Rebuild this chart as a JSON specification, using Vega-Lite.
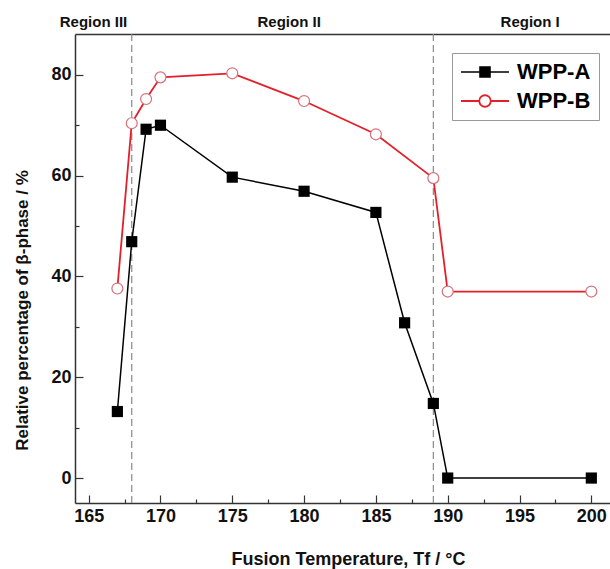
{
  "$schema": "https://vega.github.io/schema/vega-lite/v6.json",
  "width": 535,
  "height": 469,
  "autosize": {"type": "none"},
  "padding": {"left": 75, "top": 34, "right": 0, "bottom": 66},
  "background": "white",
  "config": {"view": {"stroke": null}, "font": "Liberation Sans"},
  "datasets": {
    "series": [
      {"series": "WPP-A", "T": 167, "beta": 13.2},
      {"series": "WPP-A", "T": 168, "beta": 46.9},
      {"series": "WPP-A", "T": 169, "beta": 69.2},
      {"series": "WPP-A", "T": 170, "beta": 70.0},
      {"series": "WPP-A", "T": 175, "beta": 59.7},
      {"series": "WPP-A", "T": 180, "beta": 56.9},
      {"series": "WPP-A", "T": 185, "beta": 52.7},
      {"series": "WPP-A", "T": 187, "beta": 30.8},
      {"series": "WPP-A", "T": 189, "beta": 14.8},
      {"series": "WPP-A", "T": 190, "beta": 0},
      {"series": "WPP-A", "T": 200, "beta": 0},
      {"series": "WPP-B", "T": 167, "beta": 37.6},
      {"series": "WPP-B", "T": 168, "beta": 70.4},
      {"series": "WPP-B", "T": 169, "beta": 75.2},
      {"series": "WPP-B", "T": 170, "beta": 79.5},
      {"series": "WPP-B", "T": 175, "beta": 80.3},
      {"series": "WPP-B", "T": 180, "beta": 74.8},
      {"series": "WPP-B", "T": 185, "beta": 68.2},
      {"series": "WPP-B", "T": 189, "beta": 59.5},
      {"series": "WPP-B", "T": 190, "beta": 37.0},
      {"series": "WPP-B", "T": 200, "beta": 37.0}
    ],
    "regions": [
      {"label": "Region III", "T": 165.34, "beta": 89.55},
      {"label": "Region II", "T": 178.96, "beta": 89.55},
      {"label": "Region I", "T": 195.74, "beta": 89.55}
    ],
    "dividers": [{"T": 168}, {"T": 189}]
  },
  "layer": [
    {
      "data": {"name": "dividers"},
      "mark": {"type": "rule", "color": "#8a8a8a", "strokeWidth": 1.2, "strokeDash": [7, 4]},
      "encoding": {
        "x": {"field": "T", "type": "quantitative", "scale": {"domain": [164.05, 201.3], "nice": false, "zero": false}, "axis": null}
      }
    },
    {
      "data": {"name": "series"},
      "mark": {"type": "line"},
      "encoding": {
        "x": {
          "field": "T", "type": "quantitative",
          "scale": {"domain": [164.05, 201.3], "nice": false, "zero": false},
          "axis": {
            "orient": "bottom",
            "values": [165, 167.5, 170, 172.5, 175, 177.5, 180, 182.5, 185, 187.5, 190, 192.5, 195, 197.5, 200],
            "labelExpr": "datum.value % 5 === 0 ? datum.label : ''",
            "tickSize": {"condition": {"test": "datum.value % 5 === 0", "value": -8}, "value": -4},
            "labelPadding": 12,
            "labelFlush": false,
            "labelOverlap": false,
            "labelFontSize": 18,
            "labelFontWeight": "bold",
            "labelFont": "Liberation Sans",
            "labelColor": "#111",
            "domainColor": "#333",
            "domainWidth": 1.5,
            "tickColor": "#333",
            "tickWidth": 1.2,
            "grid": false,
            "title": "Fusion Temperature, Tf / °C",
            "titleFont": "Liberation Sans",
            "titleFontSize": 18,
            "titleFontWeight": "bold",
            "titleColor": "#111",
            "titleX": 273,
            "titleY": 61,
            "titleBaseline": "alphabetic",
            "titleAlign": "center",
            "titleAnchor": null
          }
        },
        "y": {
          "field": "beta", "type": "quantitative",
          "scale": {"domain": [-4.95, 88.1], "nice": false, "zero": false},
          "axis": {
            "values": [0, 10, 20, 30, 40, 50, 60, 70, 80],
            "labelExpr": "datum.value % 20 === 0 ? datum.label : ''",
            "tickSize": {"condition": {"test": "datum.value % 20 === 0", "value": -8}, "value": -4},
            "labelPadding": 12,
            "labelFlush": false,
            "labelOverlap": false,
            "labelFontSize": 18,
            "labelFontWeight": "bold",
            "labelFont": "Liberation Sans",
            "labelColor": "#111",
            "domainColor": "#333",
            "domainWidth": 1.5,
            "tickColor": "#333",
            "tickWidth": 1.2,
            "grid": false,
            "title": "Relative percentage of β-phase / %",
            "titleFont": "Liberation Sans",
            "titleFontSize": 17,
            "titleFontWeight": "bold",
            "titleColor": "#111",
            "titleAngle": -90,
            "titleX": -48,
            "titleY": 276,
            "titleBaseline": "alphabetic",
            "titleAlign": "center",
            "titleAnchor": null
          }
        },
        "color": {
          "field": "series", "type": "nominal",
          "scale": {"domain": ["WPP-A", "WPP-B"], "range": ["#000000", "#e3202a"]},
          "legend": {
            "orient": "none",
            "legendX": 377,
            "legendY": 19,
            "title": null,
            "symbolSize": 2304,
            "symbolStrokeWidth": 1.5,
            "symbolFillColor": "#ffffff",
            "clipHeight": 22,
            "labelFontSize": 22,
            "labelFontWeight": "bold",
            "labelFont": "Liberation Sans",
            "labelColor": "#000",
            "labelOffset": 7,
            "strokeColor": "#999",
            "fillColor": "#ffffff",
            "padding": 8,
            "rowPadding": 7
          }
        },
        "shape": {
          "field": "series", "type": "nominal",
          "scale": {"domain": ["WPP-A", "WPP-B"], "range": [
            "M-1,0H-0.21M0.21,0H1M-0.21,-0.21H0.21V0.21H-0.21ZM-0.21,-0.16H0.21M-0.21,-0.11H0.21M-0.21,-0.055H0.21M-0.21,0H0.21M-0.21,0.055H0.21M-0.21,0.11H0.21M-0.21,0.16H0.21",
            "M-1,0H-0.24M0.24,0H1M0.24,0A0.24,0.24 0 1,1 -0.24,0A0.24,0.24 0 1,1 0.24,0ZM0.24,0A0.24,0.24 0 1,0 -0.24,0A0.24,0.24 0 1,0 0.24,0Z"
          ]}
        },
        "strokeWidth": {
          "field": "series", "type": "nominal",
          "scale": {"domain": ["WPP-A", "WPP-B"], "range": [1.5, 1.8]},
          "legend": null
        }
      }
    },
    {
      "data": {"name": "series"},
      "transform": [{"filter": "datum.series === 'WPP-A'"}],
      "mark": {"type": "point", "shape": "square", "filled": true, "color": "#000000", "size": 125, "opacity": 1},
      "encoding": {
        "x": {"field": "T", "type": "quantitative", "scale": {"domain": [164.05, 201.3], "nice": false, "zero": false}, "axis": null},
        "y": {"field": "beta", "type": "quantitative", "scale": {"domain": [-4.95, 88.1], "nice": false, "zero": false}}
      }
    },
    {
      "data": {"name": "series"},
      "transform": [{"filter": "datum.series === 'WPP-B'"}],
      "mark": {"type": "point", "shape": "circle", "fill": "#ffffff", "stroke": "#d8707a", "strokeWidth": 1.2, "size": 120, "opacity": 1, "fillOpacity": 1},
      "encoding": {
        "x": {"field": "T", "type": "quantitative", "scale": {"domain": [164.05, 201.3], "nice": false, "zero": false}, "axis": null},
        "y": {"field": "beta", "type": "quantitative", "scale": {"domain": [-4.95, 88.1], "nice": false, "zero": false}}
      }
    },
    {
      "data": {"name": "regions"},
      "mark": {"type": "text", "font": "Liberation Sans", "fontSize": 15, "fontWeight": "bold", "color": "#111", "baseline": "alphabetic", "align": "center"},
      "encoding": {
        "x": {
          "field": "T", "type": "quantitative",
          "scale": {"domain": [164.05, 201.3], "nice": false, "zero": false},
          "axis": {"orient": "top", "labels": false, "ticks": false, "title": null, "grid": false, "domainColor": "#333", "domainWidth": 1.5}
        },
        "y": {"field": "beta", "type": "quantitative", "scale": {"domain": [-4.95, 88.1], "nice": false, "zero": false}},
        "text": {"field": "label"}
      }
    }
  ],
  "resolve": {"axis": {"x": "independent"}}
}
